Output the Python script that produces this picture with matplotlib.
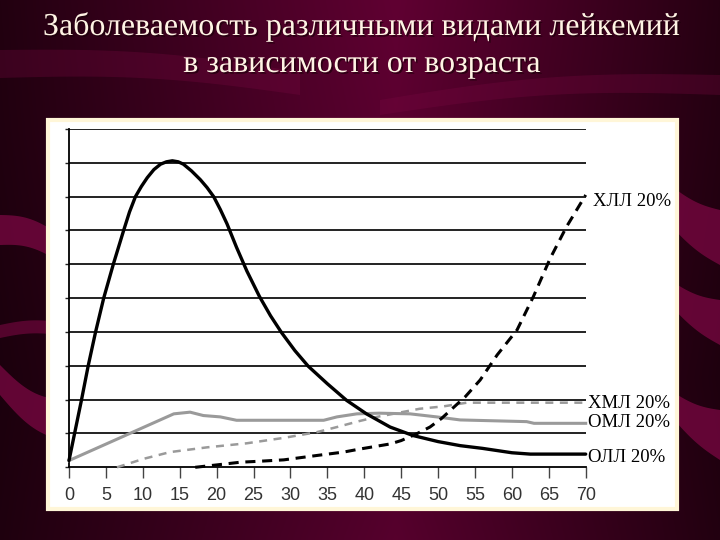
import numpy as np
import matplotlib
matplotlib.use("Agg")
import matplotlib.pyplot as plt
from matplotlib.patches import Rectangle, Polygon
import matplotlib.patheffects as pe

# ---------------- data ----------------
title_lines = ["Заболеваемость различными видами лейкемий", "в зависимости от возраста"]
x_ticks = [0, 5, 10, 15, 20, 25, 30, 35, 40, 45, 50, 55, 60, 65, 70]

oll_x = [0, 1.7, 2.6, 3.6, 4.7, 6, 7.4, 8.2, 9, 9.8, 10.6, 11.5, 12.4, 13.2, 14, 14.8, 15.5,
         16.6, 17.8, 18.7, 19.6, 20.5, 21.4, 22.7, 24.1, 25.8, 27.3, 28.8, 30.6, 32.4, 35,
         37.6, 40.3, 43.5, 46.6, 50, 53, 56, 60, 62.5, 70]
oll_y = [0.2, 2.0, 3.0, 4.0, 5.0, 6.0, 7.0, 7.55, 8.0, 8.3, 8.56, 8.8, 8.96, 9.03, 9.06, 9.03, 8.96,
         8.76, 8.5, 8.27, 8.0, 7.62, 7.2, 6.5, 5.8, 5.05, 4.48, 3.98, 3.45, 2.99, 2.47,
         1.98, 1.58, 1.19, 0.94, 0.76, 0.64, 0.56, 0.43, 0.39, 0.39]

oml_x = [0, 14.2, 16.4, 18.2, 20.5, 22.7, 34.5, 36.3, 39, 42, 46.2, 49.8, 53, 62, 63, 70]
oml_y = [0.2, 1.58, 1.63, 1.53, 1.49, 1.39, 1.39, 1.49, 1.58, 1.60, 1.58, 1.49, 1.40, 1.35, 1.30, 1.30]

hml_x = [6.5, 10.1, 13.7, 18.7, 24.1, 29.1, 33.6, 36.3, 39.4, 41.7, 43.9, 47.5, 50.7, 53.9, 70]
hml_y = [0.0, 0.25, 0.45, 0.59, 0.71, 0.87, 1.04, 1.19, 1.37, 1.49, 1.58, 1.73, 1.80, 1.91, 1.91]

hll_x = [17.1, 20, 23.2, 25.9, 29.1, 33.6, 37.2, 39.4, 43.5, 45, 47.1, 48.9, 50.5,
         53.7, 55.7, 58, 60.7, 62.9, 65.2, 67.4, 70]
hll_y = [0.0, 0.07, 0.15, 0.18, 0.22, 0.35, 0.45, 0.54, 0.69, 0.79, 0.99, 1.19, 1.45,
         2.09, 2.58, 3.32, 4.06, 5.04, 6.18, 7.11, 8.05]

labels = ["ХЛЛ 20%", "ХМЛ 20%", "ОМЛ 20%", "ОЛЛ 20%"]
label_y = [7.85, 1.90, 1.31, 0.30]

# ---------------- figure ----------------
W, H = 720, 540
fig = plt.figure(figsize=(7.2, 5.4), dpi=100)

# background
bg = fig.add_axes([0, 0, 1, 1], zorder=0)
bg.set_xlim(0, W); bg.set_ylim(H, 0); bg.axis("off")
xs = np.linspace(0, 1, 400)
c_left = np.array([0x22, 0x00, 0x10]) / 255
c_mid = np.array([0x60, 0x00, 0x32]) / 255
c_right = np.array([0x26, 0x00, 0x12]) / 255
t = np.interp(xs, [0, 0.55, 1], [0, 1, 0])
side = xs < 0.55
rows = np.where(side[:, None], c_left * (1 - t[:, None]) + c_mid * t[:, None],
                c_right * (1 - t[:, None]) + c_mid * t[:, None])
vert = np.interp(np.linspace(0, 1, 200), [0, 0.25, 0.7, 1], [1.0, 0.95, 0.8, 0.9])
img = vert[:, None, None] * rows[None, :, :]
bg.imshow(img, extent=[0, W, H, 0], aspect="auto", zorder=0)

band = "#7a0842"
def swirl(x0, x1, y0a, y0b, y1a, y1b, bow, alpha=0.75):
    u = np.linspace(0, 1, 60)
    xx = x0 + (x1 - x0) * u
    top = y0a + (y1a - y0a) * u + bow * np.sin(np.pi * u)
    bot = y0b + (y1b - y0b) * u + bow * np.sin(np.pi * u)
    pts = np.concatenate([np.c_[xx, top], np.c_[xx[::-1], bot[::-1]]])
    bg.add_patch(Polygon(pts, closed=True, color=band, alpha=alpha, lw=0, zorder=1))

swirl(0, 60, 215, 245, 235, 262, -6)
swirl(0, 60, 325, 338, 322, 335, -3, 0.6)
swirl(0, 60, 365, 395, 400, 440, 8)
swirl(0, 300, 50, 78, 72, 95, -8, 0.3)
swirl(380, 720, 100, 115, 75, 95, -10, 0.3)
swirl(670, 720, 185, 225, 210, 265, 4)
swirl(670, 720, 280, 305, 300, 345, 4)
swirl(670, 720, 390, 415, 410, 460, 4)

# white panel
px0, px1, py0, py1 = 48, 677, 120, 509
fig.patches.append(Rectangle((px0 / W, 1 - py1 / H), (px1 - px0) / W, (py1 - py0) / H,
                             transform=fig.transFigure, facecolor="white",
                             edgecolor="#fff6d8", lw=3, zorder=1))

# title
for txt, yb in zip(title_lines, [35, 72]):
    fig.text(0.503, 1 - yb / H, txt, ha="center", va="baseline", color="#fff4e4",
             fontsize=23, family="Liberation Serif", zorder=5,
             path_effects=[pe.withSimplePatchShadow(offset=(1.2, -1.2), shadow_rgbFace="#1a0008", alpha=0.7)])

# plot axes
ax_l, ax_r, ax_b, ax_t = 69, 585.7, 467.3, 129
ax = fig.add_axes([ax_l / W, 1 - ax_b / H, (ax_r - ax_l) / W, (ax_b - ax_t) / H], zorder=3)
ax.set_facecolor("none")
ax.set_xlim(0, 70)
ax.set_ylim(0, 10)
for s in ["top", "right"]:
    ax.spines[s].set_visible(False)
ax.spines["left"].set_linewidth(1.3)
ax.spines["bottom"].set_linewidth(1.3)
ax.set_yticks(range(0, 11))
ax.set_yticklabels([])
ax.tick_params(axis="y", direction="out", length=3, width=1, color="#222")
ax.set_xticks(x_ticks)
ax.set_xticklabels([str(v) for v in x_ticks], family="Liberation Sans",
                   fontsize=13, color="#333")
ax.tick_params(axis="x", direction="out", length=8, width=1, color="#444", pad=6)
for yv in range(1, 11):
    ax.axhline(yv, color="#111", lw=1.3, zorder=1)

ax.plot(oml_x, oml_y, color="#9a9a9a", lw=2.2, zorder=3, clip_on=False)
ax.plot(hml_x, hml_y, color="#9a9a9a", lw=1.8, ls=(0, (3.2, 2.6)), zorder=3, clip_on=False)
ax.plot(hll_x, hll_y, color="black", lw=2.2, ls=(0, (3.3, 2.2)), zorder=4, clip_on=False)
ax.plot(oll_x, oll_y, color="black", lw=2.4, zorder=5, clip_on=False,
        solid_joinstyle="round", solid_capstyle="round")

for lab, yv, xo in zip(labels, label_y, [71.0, 70.3, 70.3, 70.3]):
    ax.text(xo, yv, lab, ha="left", va="center", fontsize=13.5, family="Liberation Serif",
            color="black", clip_on=False)

fig.savefig("out.png", dpi=100)
